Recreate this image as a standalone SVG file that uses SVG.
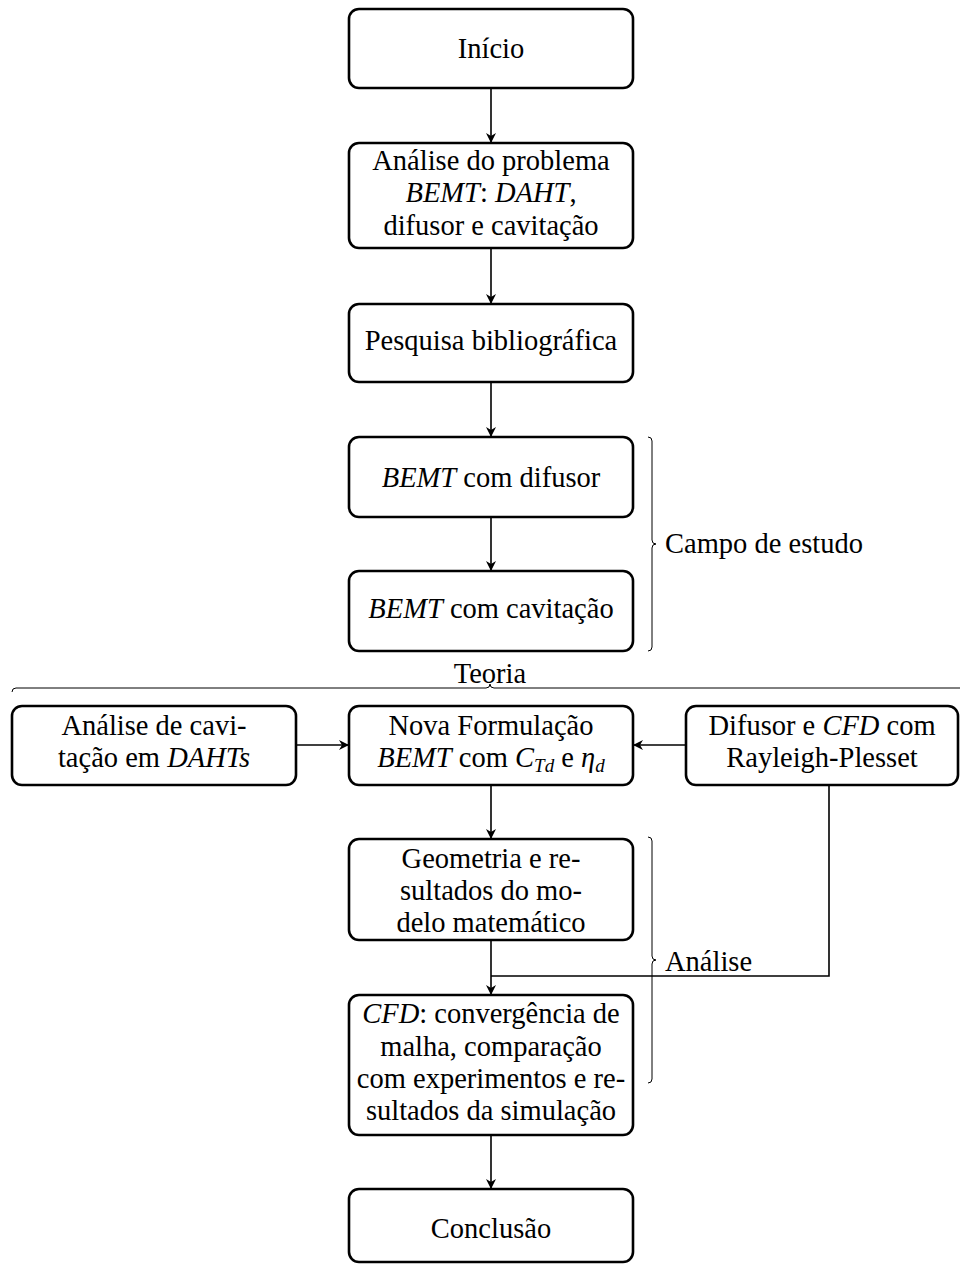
<svg xmlns="http://www.w3.org/2000/svg" width="960" height="1264" viewBox="0 0 960 1264" font-family="'Liberation Serif', 'Times New Roman', 'DejaVu Serif', serif">
<style>
.box{fill:#fff;stroke:#000;stroke-width:2.6}
text{font-family:'Liberation Serif','Times New Roman','DejaVu Serif',serif;font-size:28.5px;fill:#000;text-anchor:middle}
.lbl{text-anchor:start}
.i{font-style:italic}
.sub{font-size:19px;font-style:italic}
.con{fill:none;stroke:#000;stroke-width:1.6}
.brace{fill:none;stroke:#000;stroke-width:1}
</style>
<defs>
<marker id="ah" viewBox="0 0 10 10" refX="10" refY="5" markerWidth="10" markerHeight="10" markerUnits="userSpaceOnUse" orient="auto">
<path d="M0,0 L10,5 L0,10 L3,5 Z" fill="#000"/>
</marker>
</defs>
<g id="connectors">
<path class="con" d="M491,88 V143" marker-end="url(#ah)"/>
<path class="con" d="M491,248 V304" marker-end="url(#ah)"/>
<path class="con" d="M491,382 V437" marker-end="url(#ah)"/>
<path class="con" d="M491,517 V571" marker-end="url(#ah)"/>
<path class="con" d="M296,745 H349" marker-end="url(#ah)"/>
<path class="con" d="M686,745 H633" marker-end="url(#ah)"/>
<path class="con" d="M491,785 V839" marker-end="url(#ah)"/>
<path class="con" d="M491,940 V995" marker-end="url(#ah)"/>
<path class="con" d="M829,785 V976 H491"/>
<path class="con" d="M491,1135 V1189" marker-end="url(#ah)"/>
</g>
<g id="n1"><rect class="box" x="349" y="9" width="284" height="79" rx="10"/><text x="491" y="58">Início</text></g>
<g id="n2"><rect class="box" x="349" y="143" width="284" height="105" rx="10"/>
<text x="491" y="170">Análise do problema</text>
<text x="491" y="202"><tspan class="i">BEMT</tspan>: <tspan class="i">DAHT</tspan>,</text>
<text x="491" y="235">difusor e cavitação</text></g>
<g id="n3"><rect class="box" x="349" y="304" width="284" height="78" rx="10"/><text x="491" y="350">Pesquisa bibliográfica</text></g>
<g id="n4"><rect class="box" x="349" y="437" width="284" height="80" rx="10"/><text x="491" y="487"><tspan class="i">BEMT</tspan> com difusor</text></g>
<g id="n5"><rect class="box" x="349" y="571" width="284" height="80" rx="10"/><text x="491" y="618"><tspan class="i">BEMT</tspan> com cavitação</text></g>
<g id="b1"><path class="brace" d="M648,437 Q652,437 652,441 L652,540 Q652,544 656,544 Q652,544 652,548 L652,647 Q652,651 648,651"/><text class="lbl" x="665" y="553">Campo de estudo</text></g>
<g id="b2"><path class="brace" d="M12,692 Q12,688 16,688 L486,688 Q490,688 490,684 Q490,688 494,688 L960,688"/><text x="490" y="683">Teoria</text></g>
<g id="n6"><rect class="box" x="12" y="706" width="284" height="79" rx="10"/>
<text x="154" y="735">Análise de cavi-</text>
<text x="154" y="767">tação em <tspan class="i">DAHTs</tspan></text></g>
<g id="n7"><rect class="box" x="349" y="706" width="284" height="79" rx="10"/>
<text x="491" y="735">Nova Formulação</text>
<text x="491" y="767"><tspan class="i">BEMT</tspan> com <tspan class="i">C</tspan><tspan class="sub" dy="5">Td</tspan><tspan dy="-5"> e </tspan><tspan class="i">η</tspan><tspan class="sub" dy="5">d</tspan></text></g>
<g id="n8"><rect class="box" x="686" y="706" width="272" height="79" rx="10"/>
<text x="822" y="735">Difusor e <tspan class="i">CFD</tspan> com</text>
<text x="822" y="767">Rayleigh-Plesset</text></g>
<g id="n9"><rect class="box" x="349" y="839" width="284" height="101" rx="10"/>
<text x="491" y="868">Geometria e re-</text>
<text x="491" y="900">sultados do mo-</text>
<text x="491" y="932">delo matemático</text></g>
<g id="b3"><path class="brace" d="M648,837 Q652,837 652,841 L652,956 Q652,960 656,960 Q652,960 652,964 L652,1079 Q652,1083 648,1083"/><text class="lbl" x="665" y="971">Análise</text></g>
<g id="n10"><rect class="box" x="349" y="995" width="284" height="140" rx="10"/>
<text x="491" y="1023"><tspan class="i">CFD</tspan>: convergência de</text>
<text x="491" y="1056">malha, comparação</text>
<text x="491" y="1088">com experimentos e re-</text>
<text x="491" y="1120">sultados da simulação</text></g>
<g id="n11"><rect class="box" x="349" y="1189" width="284" height="73" rx="10"/><text x="491" y="1238">Conclusão</text></g>
</svg>
